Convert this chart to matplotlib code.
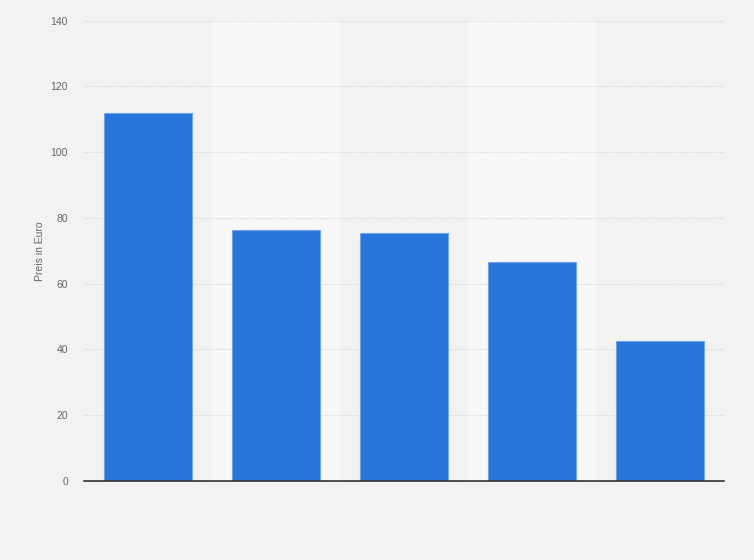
import matplotlib
matplotlib.use("Agg")
import matplotlib.pyplot as plt
import numpy as np

categories = ["1", "2", "3", "4", "5"]
values = [111.8, 76.4, 75.5, 66.5, 42.7]
yticks = [0, 20, 40, 60, 80, 100, 120, 140]

plt.rcParams['font.family'] = ['Liberation Sans', 'DejaVu Sans']

fig = plt.figure(figsize=(7.54, 5.60), dpi=100)
fig.patch.set_facecolor('#f2f2f2')
ax = fig.add_axes([84/754, 79/560, 640/754, (481-20.7)/560])
ax.set_facecolor('#f2f2f2')

x = np.arange(len(categories))
# alternating bands
for i in x:
    if i % 2 == 1:
        ax.axvspan(i - 0.5, i + 0.5, color='#f8f8f8', zorder=0, lw=0)

ax.bar(x, values, width=0.6875, color='#2775db', edgecolor='#6fa3ea', linewidth=0.8, zorder=3)

ax.set_xlim(-0.5, len(categories) - 0.5)
ax.set_ylim(0, 140)
ax.set_yticks(yticks)
ax.set_yticklabels([str(t) for t in yticks])
ax.set_xticks([])
ax.grid(axis='y', color='#d8d8d8', linestyle=(0, (1, 1)), linewidth=0.8, zorder=1)
for s in ['top', 'right', 'left']:
    ax.spines[s].set_visible(False)
ax.spines['bottom'].set_color('#333333')
ax.spines['bottom'].set_linewidth(1.2)
ax.spines['bottom'].set_zorder(4)
ax.tick_params(axis='y', length=0, pad=11.5, labelsize=7.5, labelcolor='#666666')
ax.set_ylabel('Preis in Euro', fontsize=7.5, color='#666666')
ax.yaxis.set_label_coords((45 - 84) / 640, 0.5)

fig.savefig('out.png', dpi=100, facecolor=fig.get_facecolor())
